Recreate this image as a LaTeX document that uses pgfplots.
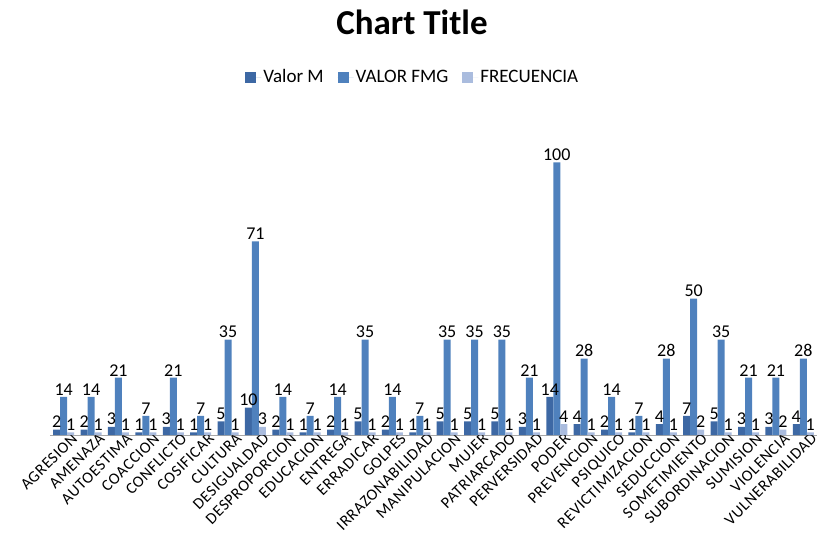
\documentclass[border=0pt]{standalone}
\usepackage{fontspec}
\setmainfont{Carlito}
\usepackage{pgfplots}
\pgfplotsset{compat=1.18}
\usepackage{pgfplotstable}
\definecolor{cM}{RGB}{61,104,164}
\definecolor{cF}{RGB}{79,129,189}
\definecolor{cR}{RGB}{170,188,222}
\pgfplotstableread{
x M F R
0 2 14 1
1 2 14 1
2 3 21 1
3 1 7 1
4 3 21 1
5 1 7 1
6 5 35 1
7 10 71 3
8 2 14 1
9 1 7 1
10 2 14 1
11 5 35 1
12 2 14 1
13 1 7 1
14 5 35 1
15 5 35 1
16 5 35 1
17 3 21 1
18 14 100 4
19 4 28 1
20 2 14 1
21 1 7 1
22 4 28 1
23 7 50 2
24 5 35 1
25 3 21 1
26 3 21 2
27 4 28 1
}\data
\begin{document}
\begin{tikzpicture}[x=1pt,y=1pt]
\useasboundingbox (-50,-117) rectangle (772,435);
\begin{axis}[
  at={(0,0)}, anchor=south west,
  scale only axis, width=767pt, height=300pt,
  ymin=0, ymax=110, xmin=-0.5, xmax=27.5,
  hide y axis,
  axis x line*=bottom,
  x axis line style={draw=gray!70, line width=0.8pt},
  xtick=data, major tick length=0pt,
  xticklabels={AGRESION,AMENAZA,AUTOESTIMA,COACCION,CONFLICTO,COSIFICAR,CULTURA,DESIGUALDAD,DESPROPORCION,EDUCACION,ENTREGA,ERRADICAR,GOLPES,IRRAZONABILIDAD,MANIPULACION,MUJER,PATRIARCADO,PERVERSIDAD,PODER,PREVENCION,PSIQUICO,REVICTIMIZACION,SEDUCCION,SOMETIMIENTO,SUBORDINACION,SUMISION,VIOLENCIA,VULNERABILIDAD},
  xticklabel style={rotate=45, anchor=north east, font=\fontsize{16}{16}\selectfont\addfontfeature{LetterSpace=4}, inner sep=0pt, yshift=-3pt, xshift=7pt},
  ybar, bar width=7pt,
  /pgf/number format/assume math mode=true,
  nodes near coords,
  every node near coord/.append style={font=\fontsize{18}{18}\selectfont, black, inner sep=1.5pt},
  legend style={at={(0.473,1.193)}, anchor=center, draw=none, legend columns=-1, font=\fontsize{19}{19}\selectfont,
    /tikz/every even column/.append style={column sep=12pt}},
  legend image code/.code={\fill[#1] (0pt,-5.5pt) rectangle (11pt,5.5pt); \path (0pt,0pt) -- (16pt,0pt);},
]
\addplot[fill=cM, draw=none, bar shift=-7pt] table[x=x,y=M]{\data};
\addplot[fill=cF, draw=none, bar shift=0pt] table[x=x,y=F]{\data};
\addplot[fill=cR, draw=none, bar shift=7pt] table[x=x,y=R]{\data};
\legend{Valor M, VALOR FMG, FRECUENCIA}
\end{axis}
\node[font=\fontsize{35}{35}\selectfont\bfseries] at (362,413) {Chart Title};
\end{tikzpicture}
\end{document}
